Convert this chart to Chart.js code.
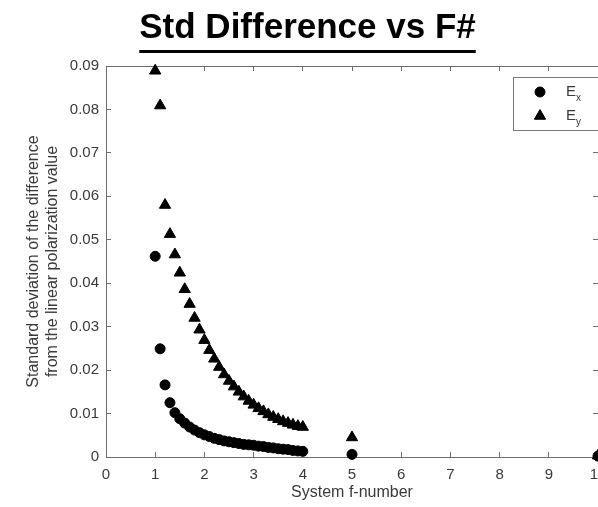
<!DOCTYPE html>
<html>
<head>
<meta charset="utf-8">
<script src="https://cdn.jsdelivr.net/npm/chart.js@4/dist/chart.umd.min.js"></script>
<style>
  html, body { margin: 0; padding: 0; background: #ffffff; }
  #wrap { width: 598px; height: 507px; }
</style>
</head>
<body>
<div id="wrap"><canvas id="c" width="598" height="507"></canvas></div>
<script>
// Text
const chartTitle = 'Std Difference vs F#';
const xAxisTitle = 'System f-number';
const yAxisTitle = ['Standard deviation of the difference', 'from the linear polarization value'];
const seriesNames = ['E_x', 'E_y'];

// System f-numbers measured
const fNumbers = [1.0, 1.1, 1.2, 1.3, 1.4, 1.5, 1.6, 1.7, 1.8, 1.9,
                  2.0, 2.1, 2.2, 2.3, 2.4, 2.5, 2.6, 2.7, 2.8, 2.9,
                  3.0, 3.1, 3.2, 3.3, 3.4, 3.5, 3.6, 3.7, 3.8, 3.9,
                  4.0, 5.0, 10.0];

// Standard deviation from the linear polarization value, Ex
const exStd = [0.0462, 0.0249, 0.0166, 0.0125, 0.0102, 0.0088, 0.0078, 0.0069, 0.0062, 0.0056,
               0.0051, 0.0047, 0.0043, 0.0040, 0.0037, 0.0035, 0.0033, 0.0031, 0.0029, 0.0028,
               0.0027, 0.0025, 0.0024, 0.0022, 0.0021, 0.0019, 0.0018, 0.0017, 0.0015, 0.0014,
               0.0013, 0.0006, 0.0002];

// Standard deviation from the linear polarization value, Ey
const eyStd = [0.0889, 0.0809, 0.0580, 0.0513, 0.0466, 0.0424, 0.0386, 0.0352, 0.0320, 0.0293,
               0.0269, 0.0246, 0.0226, 0.0207, 0.0190, 0.0175, 0.0162, 0.0150, 0.0139, 0.0129,
               0.0120, 0.0112, 0.0105, 0.0098, 0.0092, 0.0087, 0.0082, 0.0078, 0.0074, 0.0071,
               0.0069, 0.0045, 0.0003];

// Axis ticks
const xTicks = [0, 1, 2, 3, 4, 5, 6, 7, 8, 9, 10];
const yTicks = [0, 0.01, 0.02, 0.03, 0.04, 0.05, 0.06, 0.07, 0.08, 0.09];
const yTickLabels = ['0', '0.01', '0.02', '0.03', '0.04', '0.05', '0.06', '0.07', '0.08', '0.09'];

const FONT = "'Liberation Sans', Arial, Helvetica, sans-serif";
const TEXT = '#3a3a3a';
const AXIS = '#6e6e6e';

const toPoints = (ys) => fNumbers.map((x, i) => ({ x: x, y: ys[i] }));

// Inward-pointing tick marks on all four sides
const tickGrid = { drawOnChartArea: false, drawTicks: true, tickLength: -5, color: AXIS, lineWidth: 1 };

// Keep the plot box at fixed margins regardless of label overhang
const noOverhang = (s) => { s.paddingLeft = 0; s.paddingRight = 0; s.paddingTop = 0; s.paddingBottom = 0; };

// Bold underlined heading
const headingPlugin = {
  id: 'heading',
  afterDraw(chart) {
    const ctx = chart.ctx;
    ctx.save();
    ctx.font = 'bold 35px ' + FONT;
    ctx.fillStyle = '#000';
    ctx.textAlign = 'center';
    ctx.textBaseline = 'alphabetic';
    const cx = 307.5, base = 37.5;
    ctx.fillText(chartTitle, cx, base);
    const w = ctx.measureText(chartTitle).width;
    ctx.fillRect(cx - w / 2, 50, w, 3);
    ctx.restore();
  }
};

// Boxed legend with subscripted series names
const boxLegendPlugin = {
  id: 'boxLegend',
  afterDraw(chart) {
    const ctx = chart.ctx;
    const H = Chart.helpers;
    ctx.save();
    ctx.strokeStyle = '#7a7a7a';
    ctx.lineWidth = 1;
    ctx.fillStyle = '#fff';
    ctx.fillRect(513.5, 77.5, 100, 53);
    ctx.strokeRect(513.5, 77.5, 100, 53);
    chart.data.datasets.forEach((ds, i) => {
      const y = 92 + i * 24;
      ctx.fillStyle = ds.backgroundColor;
      ctx.strokeStyle = ds.borderColor;
      ctx.lineWidth = ds.borderWidth;
      H.drawPoint(ctx, { pointStyle: ds.pointStyle, radius: ds.legendRadius, rotation: 0, borderWidth: ds.borderWidth }, 540, y);
      const parts = ds.label.split('_');
      ctx.fillStyle = TEXT;
      ctx.textAlign = 'left';
      ctx.textBaseline = 'alphabetic';
      ctx.font = '15px ' + FONT;
      ctx.fillText(parts[0], 566, y + 4);
      const w = ctx.measureText(parts[0]).width;
      ctx.font = '10px ' + FONT;
      ctx.fillText(parts[1] || '', 566 + w, y + 9);
    });
    ctx.restore();
  }
};

new Chart(document.getElementById('c'), {
  type: 'scatter',
  data: {
    datasets: [
      {
        label: seriesNames[0],
        data: toPoints(exStd),
        pointStyle: 'circle',
        pointRadius: 5,
        legendRadius: 5,
        borderWidth: 1,
        backgroundColor: '#000',
        borderColor: '#000',
        clip: false
      },
      {
        label: seriesNames[1],
        data: toPoints(eyStd),
        pointStyle: 'triangle',
        pointRadius: 6.5,
        legendRadius: 6.5,
        borderWidth: 1,
        backgroundColor: '#000',
        borderColor: '#000',
        clip: false
      }
    ]
  },
  options: {
    responsive: false,
    devicePixelRatio: 1,
    animation: false,
    events: [],
    layout: { autoPadding: false, padding: { top: 66, left: 0, right: 0, bottom: 0 } },
    plugins: {
      legend: { display: false },
      title: { display: false },
      tooltip: { enabled: false }
    },
    scales: {
      x: {
        type: 'linear',
        position: 'bottom',
        min: 0,
        max: 10,
        afterBuildTicks: (s) => { s.ticks = xTicks.map(v => ({ value: v })); },
        afterFit: (s) => { s.height = 50; noOverhang(s); },
        ticks: { color: TEXT, font: { family: FONT, size: 15 }, padding: 14, maxRotation: 0, autoSkip: false },
        grid: tickGrid,
        border: { color: AXIS, width: 1 },
        title: { display: true, text: xAxisTitle, color: TEXT, font: { family: FONT, size: 16 }, padding: { top: 0, bottom: 5 } }
      },
      x2: {
        type: 'linear',
        position: 'top',
        min: 0,
        max: 10,
        afterBuildTicks: (s) => { s.ticks = xTicks.map(v => ({ value: v })); },
        afterFit: (s) => { s.height = 0; noOverhang(s); },
        ticks: { display: false },
        grid: tickGrid,
        border: { color: AXIS, width: 1 }
      },
      y: {
        type: 'linear',
        position: 'left',
        min: 0,
        max: 0.09,
        afterBuildTicks: (s) => { s.ticks = yTicks.map(v => ({ value: v })); },
        afterFit: (s) => { s.width = 106; noOverhang(s); },
        ticks: { color: TEXT, font: { family: FONT, size: 15 }, padding: 12, callback: (v, i) => yTickLabels[i] },
        grid: tickGrid,
        border: { color: AXIS, width: 1 },
        title: { display: true, text: yAxisTitle, color: TEXT, font: { family: FONT, size: 16 }, padding: { top: 24, bottom: 0 } }
      },
      y2: {
        type: 'linear',
        position: 'right',
        min: 0,
        max: 0.09,
        afterBuildTicks: (s) => { s.ticks = yTicks.map(v => ({ value: v })); },
        afterFit: (s) => { s.width = 0; noOverhang(s); },
        ticks: { display: false },
        grid: tickGrid,
        border: { color: AXIS, width: 1 }
      }
    }
  },
  plugins: [headingPlugin, boxLegendPlugin]
});
</script>
</body>
</html>
